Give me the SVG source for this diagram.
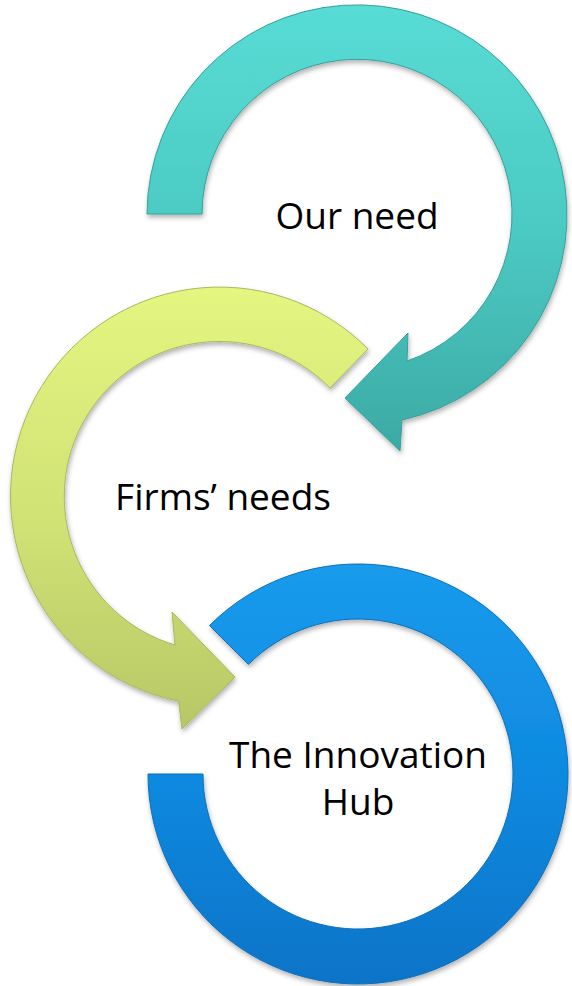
<svg xmlns="http://www.w3.org/2000/svg" width="572" height="986" viewBox="0 0 572 986">
  <defs>
    <linearGradient id="gTeal" gradientUnits="userSpaceOnUse" x1="0" y1="5" x2="0" y2="452">
      <stop offset="0" stop-color="#58dcd5"/>
      <stop offset="0.5" stop-color="#4bcac3"/>
      <stop offset="1" stop-color="#3da9a4"/>
    </linearGradient>
    <linearGradient id="gYellow" gradientUnits="userSpaceOnUse" x1="0" y1="290" x2="0" y2="730">
      <stop offset="0" stop-color="#e4f580"/>
      <stop offset="0.5" stop-color="#d2e376"/>
      <stop offset="1" stop-color="#b7c766"/>
    </linearGradient>
    <linearGradient id="gBlue" gradientUnits="userSpaceOnUse" x1="0" y1="563" x2="0" y2="984">
      <stop offset="0" stop-color="#1a9bec"/>
      <stop offset="0.5" stop-color="#0f8ae0"/>
      <stop offset="1" stop-color="#0a74c8"/>
    </linearGradient>
    <filter id="shadow" x="-10%" y="-10%" width="120%" height="120%">
      <feDropShadow dx="1" dy="3" stdDeviation="2.5" flood-color="#000" flood-opacity="0.3"/>
    </filter>
  </defs>
  <style>
    .shape { filter: url(#shadow); stroke-width: 1; stroke-linejoin: round; }
    .label { font-family: "Open Sans", "Noto Sans", "DejaVu Sans", sans-serif; font-size: 37px; fill: #000; text-anchor: middle; }
  </style>
  <rect width="572" height="986" fill="#fff"/>
  <g id="connectors"/>
  <g id="innovation-hub">
    <path class="shape" fill="url(#gBlue)" stroke="#0b6fb8" d="M148,774 A210,210 0 1 0 209.5,625.5 L248.4,664.4 A155,155 0 1 1 203,774 Z"/>
    <text class="label" x="358" y="768">The Innovation</text>
    <text class="label" x="358" y="815">Hub</text>
  </g>
  <g id="firms-needs">
    <path class="shape" fill="url(#gYellow)" stroke="#a9b95e" d="M368,349 A209,209 0 1 0 178.5,701 L182,729 L235,677 L172,612 L175,645 A155,155 0 1 1 330,388 Z"/>
    <text class="label" x="223" y="510">Firms’ needs</text>
  </g>
  <g id="our-need">
    <path class="shape" fill="url(#gTeal)" stroke="#37a09b" d="M147,214 A210,210 0 1 1 402,420 L400,451 L345,398 L408,333 L407,361 A155,155 0 1 0 202,214 Z"/>
    <text class="label" x="357" y="229">Our need</text>
  </g>
</svg>
